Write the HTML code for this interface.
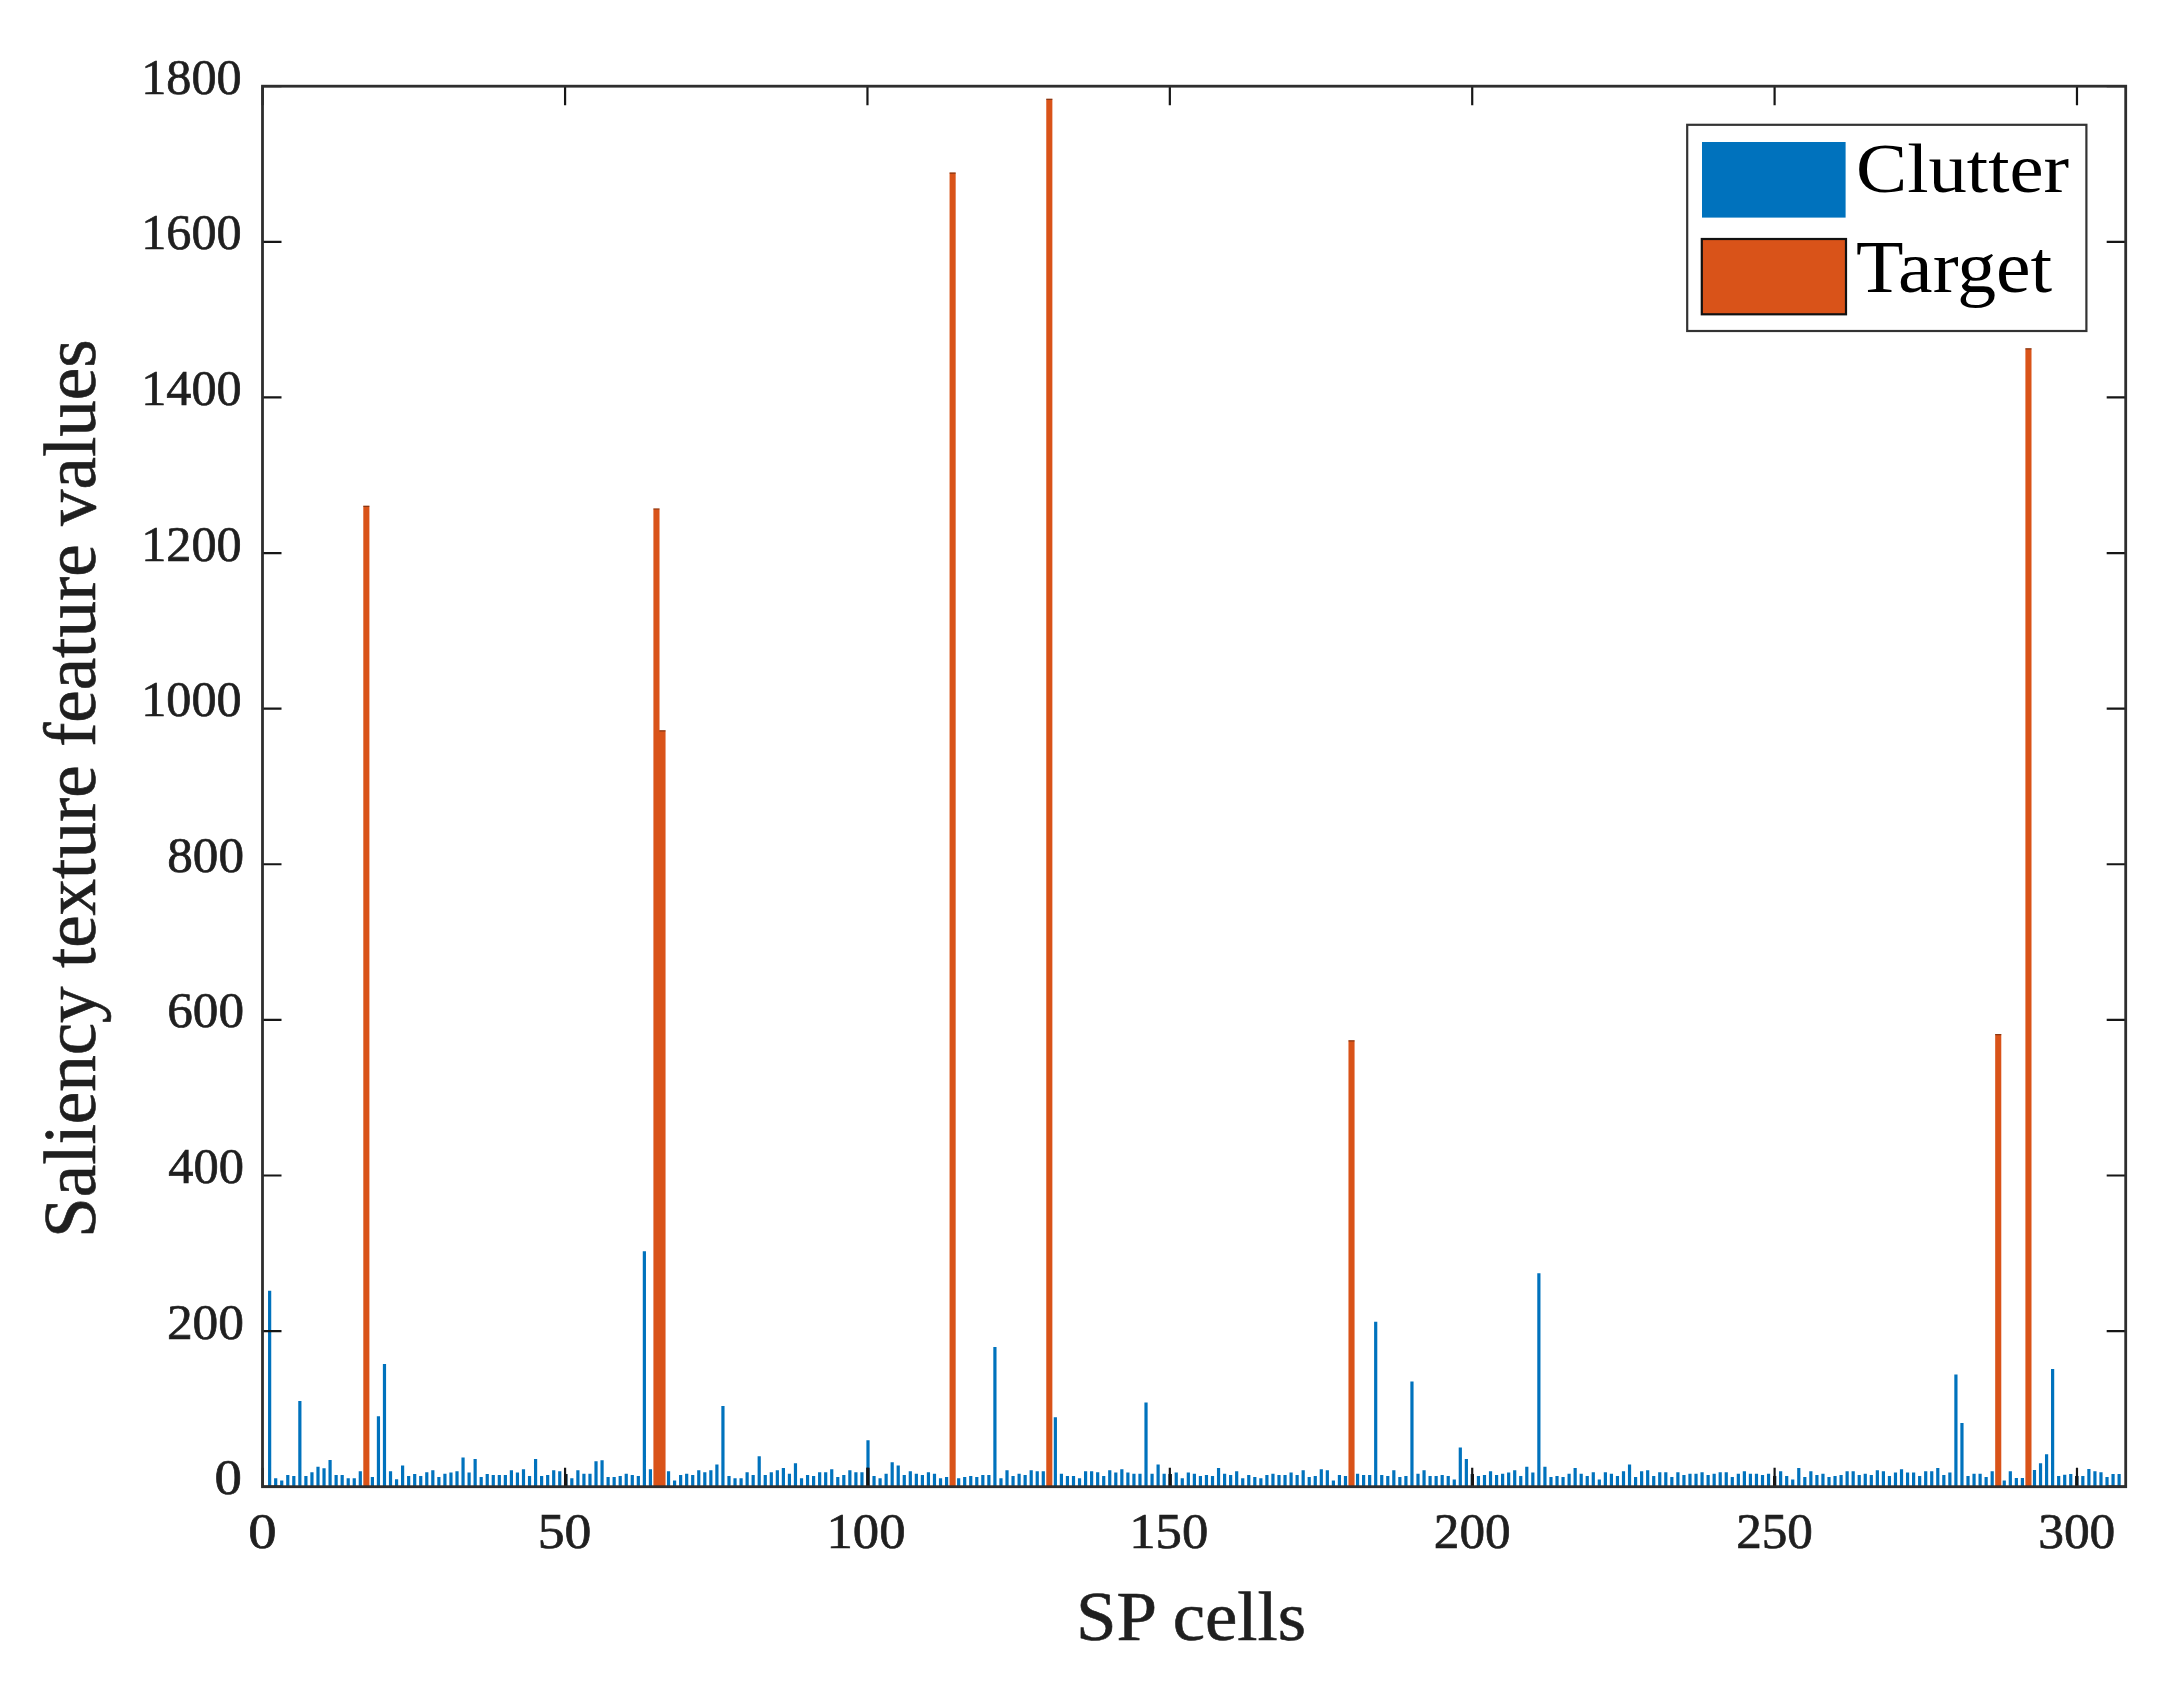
<!DOCTYPE html>
<html><head><meta charset="utf-8"><title>Saliency texture feature values</title>
<style>html,body{margin:0;padding:0;background:#fff;}svg{display:block;}</style></head>
<body><svg width="2179" height="1691" viewBox="0 0 2179 1691">
<rect width="2179" height="1691" fill="#fff"/>
<path fill="#0072BD" d="M268.04 1290.8h3.2V1486.7h-3.2zM274.09 1478.2h3.2V1486.7h-3.2zM280.13 1480.6h3.2V1486.7h-3.2zM286.18 1475.1h3.2V1486.7h-3.2zM292.22 1476.1h3.2V1486.7h-3.2zM298.26 1401h3.2V1486.7h-3.2zM304.31 1476.1h3.2V1486.7h-3.2zM310.35 1472.3h3.2V1486.7h-3.2zM316.4 1466.8h3.2V1486.7h-3.2zM322.44 1468.2h3.2V1486.7h-3.2zM328.48 1459.9h3.2V1486.7h-3.2zM334.53 1475.1h3.2V1486.7h-3.2zM340.57 1475.1h3.2V1486.7h-3.2zM346.62 1478.2h3.2V1486.7h-3.2zM352.66 1478.2h3.2V1486.7h-3.2zM358.7 1471.3h3.2V1486.7h-3.2zM370.79 1477.1h3.2V1486.7h-3.2zM376.84 1416.2h3.2V1486.7h-3.2zM382.88 1364.1h3.2V1486.7h-3.2zM388.92 1471.3h3.2V1486.7h-3.2zM394.97 1479.2h3.2V1486.7h-3.2zM401.01 1465.4h3.2V1486.7h-3.2zM407.06 1476.1h3.2V1486.7h-3.2zM413.1 1474h3.2V1486.7h-3.2zM419.14 1476.1h3.2V1486.7h-3.2zM425.19 1472.3h3.2V1486.7h-3.2zM431.23 1470.2h3.2V1486.7h-3.2zM437.28 1477.1h3.2V1486.7h-3.2zM443.32 1473.8h3.2V1486.7h-3.2zM449.36 1472.4h3.2V1486.7h-3.2zM455.41 1471.3h3.2V1486.7h-3.2zM461.45 1457.5h3.2V1486.7h-3.2zM467.5 1472.4h3.2V1486.7h-3.2zM473.54 1458.9h3.2V1486.7h-3.2zM479.58 1477.1h3.2V1486.7h-3.2zM485.63 1474h3.2V1486.7h-3.2zM491.67 1475.1h3.2V1486.7h-3.2zM497.72 1475.1h3.2V1486.7h-3.2zM503.76 1475.1h3.2V1486.7h-3.2zM509.8 1470.2h3.2V1486.7h-3.2zM515.85 1472.4h3.2V1486.7h-3.2zM521.89 1469.2h3.2V1486.7h-3.2zM527.94 1476.1h3.2V1486.7h-3.2zM533.98 1458.9h3.2V1486.7h-3.2zM540.02 1476.1h3.2V1486.7h-3.2zM546.07 1475.1h3.2V1486.7h-3.2zM552.11 1470.2h3.2V1486.7h-3.2zM558.16 1471.3h3.2V1486.7h-3.2zM564.2 1474h3.2V1486.7h-3.2zM570.24 1478.2h3.2V1486.7h-3.2zM576.29 1470.2h3.2V1486.7h-3.2zM582.33 1473.7h3.2V1486.7h-3.2zM588.38 1473.7h3.2V1486.7h-3.2zM594.42 1461.3h3.2V1486.7h-3.2zM600.46 1460.3h3.2V1486.7h-3.2zM606.51 1477.1h3.2V1486.7h-3.2zM612.55 1477.1h3.2V1486.7h-3.2zM618.6 1476.1h3.2V1486.7h-3.2zM624.64 1473.8h3.2V1486.7h-3.2zM630.68 1475.1h3.2V1486.7h-3.2zM636.73 1476.1h3.2V1486.7h-3.2zM642.77 1251.3h3.2V1486.7h-3.2zM648.82 1469.2h3.2V1486.7h-3.2zM666.95 1471.3h3.2V1486.7h-3.2zM672.99 1480.6h3.2V1486.7h-3.2zM679.04 1475.1h3.2V1486.7h-3.2zM685.08 1473.8h3.2V1486.7h-3.2zM691.12 1475.1h3.2V1486.7h-3.2zM697.17 1470.2h3.2V1486.7h-3.2zM703.21 1472.3h3.2V1486.7h-3.2zM709.26 1470.2h3.2V1486.7h-3.2zM715.3 1464.4h3.2V1486.7h-3.2zM721.34 1405.9h3.2V1486.7h-3.2zM727.39 1476.1h3.2V1486.7h-3.2zM733.43 1478.2h3.2V1486.7h-3.2zM739.48 1478.2h3.2V1486.7h-3.2zM745.52 1472.3h3.2V1486.7h-3.2zM751.56 1475.1h3.2V1486.7h-3.2zM757.61 1456.3h3.2V1486.7h-3.2zM763.65 1475.1h3.2V1486.7h-3.2zM769.7 1472.3h3.2V1486.7h-3.2zM775.74 1470.2h3.2V1486.7h-3.2zM781.78 1468h3.2V1486.7h-3.2zM787.83 1473.7h3.2V1486.7h-3.2zM793.87 1463.2h3.2V1486.7h-3.2zM799.92 1478.2h3.2V1486.7h-3.2zM805.96 1475.1h3.2V1486.7h-3.2zM812 1476.1h3.2V1486.7h-3.2zM818.05 1472.3h3.2V1486.7h-3.2zM824.09 1472.3h3.2V1486.7h-3.2zM830.14 1469.2h3.2V1486.7h-3.2zM836.18 1477.1h3.2V1486.7h-3.2zM842.22 1475.1h3.2V1486.7h-3.2zM848.27 1470.2h3.2V1486.7h-3.2zM854.31 1472.3h3.2V1486.7h-3.2zM860.36 1472.3h3.2V1486.7h-3.2zM866.4 1440.3h3.2V1486.7h-3.2zM872.44 1476.1h3.2V1486.7h-3.2zM878.49 1478.2h3.2V1486.7h-3.2zM884.53 1473.8h3.2V1486.7h-3.2zM890.58 1462.3h3.2V1486.7h-3.2zM896.62 1465.4h3.2V1486.7h-3.2zM902.66 1475.1h3.2V1486.7h-3.2zM908.71 1471.3h3.2V1486.7h-3.2zM914.75 1473.8h3.2V1486.7h-3.2zM920.8 1475.1h3.2V1486.7h-3.2zM926.84 1472.3h3.2V1486.7h-3.2zM932.88 1473.8h3.2V1486.7h-3.2zM938.93 1478.2h3.2V1486.7h-3.2zM944.97 1477.1h3.2V1486.7h-3.2zM957.06 1478.2h3.2V1486.7h-3.2zM963.1 1477.1h3.2V1486.7h-3.2zM969.15 1476.1h3.2V1486.7h-3.2zM975.19 1477.1h3.2V1486.7h-3.2zM981.24 1475.1h3.2V1486.7h-3.2zM987.28 1475.1h3.2V1486.7h-3.2zM993.32 1347h3.2V1486.7h-3.2zM999.37 1478.2h3.2V1486.7h-3.2zM1005.41 1470.2h3.2V1486.7h-3.2zM1011.46 1476.1h3.2V1486.7h-3.2zM1017.5 1473.8h3.2V1486.7h-3.2zM1023.54 1475.1h3.2V1486.7h-3.2zM1029.59 1470.2h3.2V1486.7h-3.2zM1035.63 1471.3h3.2V1486.7h-3.2zM1041.68 1471.3h3.2V1486.7h-3.2zM1053.76 1417.2h3.2V1486.7h-3.2zM1059.81 1473.8h3.2V1486.7h-3.2zM1065.85 1476.1h3.2V1486.7h-3.2zM1071.9 1476.1h3.2V1486.7h-3.2zM1077.94 1478.2h3.2V1486.7h-3.2zM1083.98 1471.3h3.2V1486.7h-3.2zM1090.03 1471.3h3.2V1486.7h-3.2zM1096.07 1472.3h3.2V1486.7h-3.2zM1102.12 1476.1h3.2V1486.7h-3.2zM1108.16 1470.2h3.2V1486.7h-3.2zM1114.2 1472.4h3.2V1486.7h-3.2zM1120.25 1469.2h3.2V1486.7h-3.2zM1126.29 1472.4h3.2V1486.7h-3.2zM1132.34 1473.8h3.2V1486.7h-3.2zM1138.38 1473.8h3.2V1486.7h-3.2zM1144.42 1402.4h3.2V1486.7h-3.2zM1150.47 1473.8h3.2V1486.7h-3.2zM1156.51 1464.4h3.2V1486.7h-3.2zM1162.56 1473.8h3.2V1486.7h-3.2zM1168.6 1474h3.2V1486.7h-3.2zM1174.64 1472.4h3.2V1486.7h-3.2zM1180.69 1478.2h3.2V1486.7h-3.2zM1186.73 1472.4h3.2V1486.7h-3.2zM1192.78 1473.8h3.2V1486.7h-3.2zM1198.82 1476.1h3.2V1486.7h-3.2zM1204.86 1475.1h3.2V1486.7h-3.2zM1210.91 1476.1h3.2V1486.7h-3.2zM1216.95 1468h3.2V1486.7h-3.2zM1223 1473.8h3.2V1486.7h-3.2zM1229.04 1475.1h3.2V1486.7h-3.2zM1235.08 1471.3h3.2V1486.7h-3.2zM1241.13 1478.2h3.2V1486.7h-3.2zM1247.17 1475.1h3.2V1486.7h-3.2zM1253.22 1477.1h3.2V1486.7h-3.2zM1259.26 1478.2h3.2V1486.7h-3.2zM1265.3 1475.1h3.2V1486.7h-3.2zM1271.35 1473.8h3.2V1486.7h-3.2zM1277.39 1475.1h3.2V1486.7h-3.2zM1283.44 1475.1h3.2V1486.7h-3.2zM1289.48 1472.4h3.2V1486.7h-3.2zM1295.52 1475.1h3.2V1486.7h-3.2zM1301.57 1470.2h3.2V1486.7h-3.2zM1307.61 1477.1h3.2V1486.7h-3.2zM1313.66 1476.1h3.2V1486.7h-3.2zM1319.7 1469.2h3.2V1486.7h-3.2zM1325.74 1470.2h3.2V1486.7h-3.2zM1331.79 1480.6h3.2V1486.7h-3.2zM1337.83 1475.1h3.2V1486.7h-3.2zM1343.88 1476.1h3.2V1486.7h-3.2zM1355.96 1473.8h3.2V1486.7h-3.2zM1362.01 1475.1h3.2V1486.7h-3.2zM1368.05 1475.1h3.2V1486.7h-3.2zM1374.1 1321.7h3.2V1486.7h-3.2zM1380.14 1475.1h3.2V1486.7h-3.2zM1386.18 1476.1h3.2V1486.7h-3.2zM1392.23 1470.2h3.2V1486.7h-3.2zM1398.27 1477.1h3.2V1486.7h-3.2zM1404.32 1476.1h3.2V1486.7h-3.2zM1410.36 1381.4h3.2V1486.7h-3.2zM1416.4 1473.8h3.2V1486.7h-3.2zM1422.45 1470.2h3.2V1486.7h-3.2zM1428.49 1476.1h3.2V1486.7h-3.2zM1434.54 1476.1h3.2V1486.7h-3.2zM1440.58 1475.1h3.2V1486.7h-3.2zM1446.62 1476.1h3.2V1486.7h-3.2zM1452.67 1479.5h3.2V1486.7h-3.2zM1458.71 1447.4h3.2V1486.7h-3.2zM1464.76 1458.9h3.2V1486.7h-3.2zM1470.8 1474h3.2V1486.7h-3.2zM1476.84 1476.1h3.2V1486.7h-3.2zM1482.89 1475.1h3.2V1486.7h-3.2zM1488.93 1471.3h3.2V1486.7h-3.2zM1494.98 1475.1h3.2V1486.7h-3.2zM1501.02 1473.8h3.2V1486.7h-3.2zM1507.06 1472.4h3.2V1486.7h-3.2zM1513.11 1470.2h3.2V1486.7h-3.2zM1519.15 1476.1h3.2V1486.7h-3.2zM1525.2 1466.8h3.2V1486.7h-3.2zM1531.24 1472.4h3.2V1486.7h-3.2zM1537.28 1273.2h3.2V1486.7h-3.2zM1543.33 1466.8h3.2V1486.7h-3.2zM1549.37 1477.1h3.2V1486.7h-3.2zM1555.42 1476.1h3.2V1486.7h-3.2zM1561.46 1477.1h3.2V1486.7h-3.2zM1567.5 1473.7h3.2V1486.7h-3.2zM1573.55 1468h3.2V1486.7h-3.2zM1579.59 1473.8h3.2V1486.7h-3.2zM1585.64 1476.1h3.2V1486.7h-3.2zM1591.68 1472.3h3.2V1486.7h-3.2zM1597.72 1479.5h3.2V1486.7h-3.2zM1603.77 1472.3h3.2V1486.7h-3.2zM1609.81 1473.8h3.2V1486.7h-3.2zM1615.86 1476.1h3.2V1486.7h-3.2zM1621.9 1471.3h3.2V1486.7h-3.2zM1627.94 1464.4h3.2V1486.7h-3.2zM1633.99 1477.1h3.2V1486.7h-3.2zM1640.03 1471.3h3.2V1486.7h-3.2zM1646.08 1470.2h3.2V1486.7h-3.2zM1652.12 1476.1h3.2V1486.7h-3.2zM1658.16 1472.3h3.2V1486.7h-3.2zM1664.21 1472.3h3.2V1486.7h-3.2zM1670.25 1477.1h3.2V1486.7h-3.2zM1676.3 1472.3h3.2V1486.7h-3.2zM1682.34 1475.1h3.2V1486.7h-3.2zM1688.38 1473.8h3.2V1486.7h-3.2zM1694.43 1473.8h3.2V1486.7h-3.2zM1700.47 1472.3h3.2V1486.7h-3.2zM1706.52 1475.1h3.2V1486.7h-3.2zM1712.56 1473.8h3.2V1486.7h-3.2zM1718.6 1472.3h3.2V1486.7h-3.2zM1724.65 1472.3h3.2V1486.7h-3.2zM1730.69 1477.1h3.2V1486.7h-3.2zM1736.74 1473.8h3.2V1486.7h-3.2zM1742.78 1471.3h3.2V1486.7h-3.2zM1748.82 1473.8h3.2V1486.7h-3.2zM1754.87 1473.8h3.2V1486.7h-3.2zM1760.91 1475.1h3.2V1486.7h-3.2zM1766.96 1473.8h3.2V1486.7h-3.2zM1773 1476.1h3.2V1486.7h-3.2zM1779.04 1471.3h3.2V1486.7h-3.2zM1785.09 1476.1h3.2V1486.7h-3.2zM1791.13 1479.5h3.2V1486.7h-3.2zM1797.18 1468h3.2V1486.7h-3.2zM1803.22 1477.1h3.2V1486.7h-3.2zM1809.26 1471.3h3.2V1486.7h-3.2zM1815.31 1475.1h3.2V1486.7h-3.2zM1821.35 1473.8h3.2V1486.7h-3.2zM1827.4 1477.1h3.2V1486.7h-3.2zM1833.44 1476.1h3.2V1486.7h-3.2zM1839.48 1475.1h3.2V1486.7h-3.2zM1845.53 1471.3h3.2V1486.7h-3.2zM1851.57 1471.3h3.2V1486.7h-3.2zM1857.62 1475.1h3.2V1486.7h-3.2zM1863.66 1473.8h3.2V1486.7h-3.2zM1869.7 1475.1h3.2V1486.7h-3.2zM1875.75 1470.2h3.2V1486.7h-3.2zM1881.79 1471.3h3.2V1486.7h-3.2zM1887.84 1476.1h3.2V1486.7h-3.2zM1893.88 1472.4h3.2V1486.7h-3.2zM1899.92 1469.2h3.2V1486.7h-3.2zM1905.97 1472.4h3.2V1486.7h-3.2zM1912.01 1472.4h3.2V1486.7h-3.2zM1918.06 1476.1h3.2V1486.7h-3.2zM1924.1 1471.3h3.2V1486.7h-3.2zM1930.14 1471.3h3.2V1486.7h-3.2zM1936.19 1468h3.2V1486.7h-3.2zM1942.23 1475.1h3.2V1486.7h-3.2zM1948.28 1472.4h3.2V1486.7h-3.2zM1954.32 1374.6h3.2V1486.7h-3.2zM1960.36 1423.1h3.2V1486.7h-3.2zM1966.41 1476.1h3.2V1486.7h-3.2zM1972.45 1473.8h3.2V1486.7h-3.2zM1978.5 1473.8h3.2V1486.7h-3.2zM1984.54 1477.1h3.2V1486.7h-3.2zM1990.58 1471.3h3.2V1486.7h-3.2zM2002.67 1480.6h3.2V1486.7h-3.2zM2008.72 1471.3h3.2V1486.7h-3.2zM2014.76 1478h3.2V1486.7h-3.2zM2020.8 1478h3.2V1486.7h-3.2zM2032.89 1470h3.2V1486.7h-3.2zM2038.94 1463.3h3.2V1486.7h-3.2zM2044.98 1454.3h3.2V1486.7h-3.2zM2051.02 1369.1h3.2V1486.7h-3.2zM2057.07 1476.1h3.2V1486.7h-3.2zM2063.11 1474.8h3.2V1486.7h-3.2zM2069.16 1473.9h3.2V1486.7h-3.2zM2075.2 1476.1h3.2V1486.7h-3.2zM2081.24 1476.1h3.2V1486.7h-3.2zM2087.29 1469.1h3.2V1486.7h-3.2zM2093.33 1471.3h3.2V1486.7h-3.2zM2099.38 1472.3h3.2V1486.7h-3.2zM2105.42 1477.1h3.2V1486.7h-3.2zM2111.46 1473.9h3.2V1486.7h-3.2zM2117.51 1473.9h3.2V1486.7h-3.2z"/>
<path fill="#D95319" stroke="none" stroke-width="0.6" stroke-opacity="1" d="M363.3 505.7h6.1V1486.7h-6.1zM653.41 508.4h6.1V1486.7h-6.1zM659.45 730.3h6.1V1486.7h-6.1zM949.57 172.5h6.1V1486.7h-6.1zM1046.27 98.7h6.1V1486.7h-6.1zM1348.47 1040.3h6.1V1486.7h-6.1zM1995.18 1034.1h6.1V1486.7h-6.1zM2025.4 348.2h6.1V1486.7h-6.1z"/>
<path fill="#4a200c" fill-opacity="0.55" d="M363.3 505.7h6.1v1.2h-6.1zM653.41 508.4h6.1v1.2h-6.1zM659.45 730.3h6.1v1.2h-6.1zM949.57 172.5h6.1v1.2h-6.1zM1046.27 98.7h6.1v1.2h-6.1zM1348.47 1040.3h6.1v1.2h-6.1zM1995.18 1034.1h6.1v1.2h-6.1zM2025.4 348.2h6.1v1.2h-6.1z"/>
<path fill="none" stroke="#161616" stroke-width="2.2" d="M262.7 1486.7V1467.7M262.7 86.2V105.2M565.08 1486.7V1467.7M565.08 86.2V105.2M867.46 1486.7V1467.7M867.46 86.2V105.2M1169.84 1486.7V1467.7M1169.84 86.2V105.2M1472.22 1486.7V1467.7M1472.22 86.2V105.2M1774.6 1486.7V1467.7M1774.6 86.2V105.2M2076.98 1486.7V1467.7M2076.98 86.2V105.2M262.5 1486.7H281.5M2125.7 1486.7H2106.7M262.5 1331.09H281.5M2125.7 1331.09H2106.7M262.5 1175.48H281.5M2125.7 1175.48H2106.7M262.5 1019.87H281.5M2125.7 1019.87H2106.7M262.5 864.26H281.5M2125.7 864.26H2106.7M262.5 708.64H281.5M2125.7 708.64H2106.7M262.5 553.03H281.5M2125.7 553.03H2106.7M262.5 397.42H281.5M2125.7 397.42H2106.7M262.5 241.81H281.5M2125.7 241.81H2106.7M262.5 86.2H281.5M2125.7 86.2H2106.7"/>
<path fill="#161616" d="M564.2 1474h3.2V1486.7h-3.2zM866.4 1467.7h3.2V1486.7h-3.2zM1168.6 1474h3.2V1486.7h-3.2zM1470.8 1474h3.2V1486.7h-3.2zM1773 1476.1h3.2V1486.7h-3.2zM2075.2 1476.1h3.2V1486.7h-3.2z"/>
<rect x="262.5" y="86.2" width="1863.2" height="1400.5" fill="none" stroke="#2e2e2e" stroke-width="2.8"/>
<g font-family="Liberation Serif, serif"><text x="214.43" y="1494.47" font-size="50.37" textLength="27.41" lengthAdjust="spacingAndGlyphs" fill="#1f1f1f" stroke="#1f1f1f" stroke-width="0.7">0</text><text x="166.92" y="1338.87" font-size="50.37" textLength="77.13" lengthAdjust="spacingAndGlyphs" fill="#1f1f1f" stroke="#1f1f1f" stroke-width="0.7">200</text><text x="168.36" y="1182.94" font-size="50.37" textLength="75.66" lengthAdjust="spacingAndGlyphs" fill="#1f1f1f" stroke="#1f1f1f" stroke-width="0.7">400</text><text x="167.26" y="1027.34" font-size="50.37" textLength="76.78" lengthAdjust="spacingAndGlyphs" fill="#1f1f1f" stroke="#1f1f1f" stroke-width="0.7">600</text><text x="167.29" y="872.07" font-size="50.37" textLength="76.76" lengthAdjust="spacingAndGlyphs" fill="#1f1f1f" stroke="#1f1f1f" stroke-width="0.7">800</text><text x="141.17" y="716.47" font-size="50.37" textLength="100.45" lengthAdjust="spacingAndGlyphs" fill="#1f1f1f" stroke="#1f1f1f" stroke-width="0.7">1000</text><text x="141.17" y="560.87" font-size="50.37" textLength="100.45" lengthAdjust="spacingAndGlyphs" fill="#1f1f1f" stroke="#1f1f1f" stroke-width="0.7">1200</text><text x="141.17" y="404.94" font-size="50.37" textLength="100.45" lengthAdjust="spacingAndGlyphs" fill="#1f1f1f" stroke="#1f1f1f" stroke-width="0.7">1400</text><text x="141.17" y="249.34" font-size="50.37" textLength="100.45" lengthAdjust="spacingAndGlyphs" fill="#1f1f1f" stroke="#1f1f1f" stroke-width="0.7">1600</text><text x="141.17" y="94.07" font-size="50.37" textLength="100.45" lengthAdjust="spacingAndGlyphs" fill="#1f1f1f" stroke="#1f1f1f" stroke-width="0.7">1800</text><text x="248.38" y="1547.97" font-size="50.42" textLength="28.36" lengthAdjust="spacingAndGlyphs" fill="#1f1f1f" stroke="#1f1f1f" stroke-width="0.7">0</text><text x="537.71" y="1547.97" font-size="50.42" textLength="53.76" lengthAdjust="spacingAndGlyphs" fill="#1f1f1f" stroke="#1f1f1f" stroke-width="0.7">50</text><text x="826.44" y="1547.97" font-size="50.42" textLength="79.06" lengthAdjust="spacingAndGlyphs" fill="#1f1f1f" stroke="#1f1f1f" stroke-width="0.7">100</text><text x="1129.18" y="1547.97" font-size="50.42" textLength="79.06" lengthAdjust="spacingAndGlyphs" fill="#1f1f1f" stroke="#1f1f1f" stroke-width="0.7">150</text><text x="1433.81" y="1547.97" font-size="50.42" textLength="76.76" lengthAdjust="spacingAndGlyphs" fill="#1f1f1f" stroke="#1f1f1f" stroke-width="0.7">200</text><text x="1736.19" y="1547.97" font-size="50.42" textLength="76.76" lengthAdjust="spacingAndGlyphs" fill="#1f1f1f" stroke="#1f1f1f" stroke-width="0.7">250</text><text x="2038.2" y="1547.97" font-size="50.42" textLength="77.13" lengthAdjust="spacingAndGlyphs" fill="#1f1f1f" stroke="#1f1f1f" stroke-width="0.7">300</text></g>
<g font-family="Liberation Serif, serif"><text x="1076.08" y="1639.67" font-size="70.14" textLength="230.11" lengthAdjust="spacingAndGlyphs" fill="#1f1f1f" stroke="#1f1f1f" stroke-width="0.6">SP cells</text><text transform="translate(94.6 1237.91) rotate(-90)" font-size="73" textLength="898.47" lengthAdjust="spacingAndGlyphs" fill="#1f1f1f" stroke="#1f1f1f" stroke-width="0.6">Saliency texture feature values</text></g>
<rect x="1687.2" y="124.8" width="399.2" height="206.2" fill="#fff" stroke="#333" stroke-width="2.2"/>
<rect x="1702" y="142" width="143.6" height="75.6" fill="#0072BD"/>
<rect x="1701.8" y="239" width="144.2" height="75.3" fill="#D95319" stroke="#111" stroke-width="2.2"/>
<g font-family="Liberation Serif, serif"><text x="1855.95" y="192.4" font-size="70.76" textLength="213.24" lengthAdjust="spacingAndGlyphs" fill="#000">Clutter</text><text x="1856.05" y="292.02" font-size="74.79" textLength="196.09" lengthAdjust="spacingAndGlyphs" fill="#000">Target</text></g>
</svg></body></html>
